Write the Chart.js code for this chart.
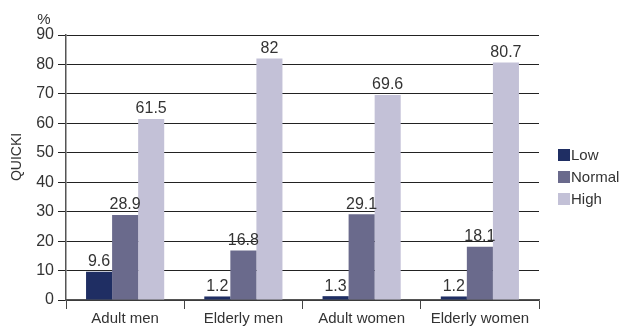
<!DOCTYPE html>
<html>
<head>
<meta charset="utf-8">
<script src="https://cdn.jsdelivr.net/npm/chart.js@4/dist/chart.umd.min.js"></script>
<style>
  html, body { margin: 0; padding: 0; background: #fff; }
  #wrap { width: 620px; height: 327px; }
</style>
</head>
<body>
<div id="wrap"><canvas id="myChart" width="620" height="327"></canvas></div>
<script>
// chart data
const categories = ['Adult men', 'Elderly men', 'Adult women', 'Elderly women'];
const lowValues = [9.6, 1.2, 1.3, 1.2];
const normalValues = [28.9, 16.8, 29.1, 18.1];
const highValues = [61.5, 82, 69.6, 80.7];
const seriesNames = ['Low', 'Normal', 'High'];
const seriesColors = ['#1f2e63', '#6a6a8c', '#c3c1d7'];

const FONT = "'Liberation Sans', Arial, sans-serif";

// value labels above the bars, "%", axis title and legend
const extras = {
    id: 'extras',
    afterDatasetsDraw(chart) {
        const ctx = chart.ctx;
        ctx.save();
        ctx.fillStyle = '#333';
        ctx.font = '16px ' + FONT;
        ctx.textAlign = 'center';
        ctx.textBaseline = 'bottom';
        chart.data.datasets.forEach((ds, i) => {
            chart.getDatasetMeta(i).data.forEach((bar, j) => {
                ctx.fillText(String(ds.data[j]), bar.x, bar.y - 2);
            });
        });
        // "%" above axis
        ctx.font = '15px ' + FONT;
        ctx.textAlign = 'center';
        ctx.textBaseline = 'alphabetic';
        ctx.fillText('%', 44, 24);
        // rotated y title
        ctx.font = '14px ' + FONT;
        ctx.translate(17, 157);
        ctx.rotate(-Math.PI / 2);
        ctx.textBaseline = 'middle';
        ctx.fillText('QUICKI', 0, 0);
        ctx.restore();

        // legend
        ctx.save();
        ctx.font = '15px ' + FONT;
        ctx.textAlign = 'left';
        ctx.textBaseline = 'middle';
        chart.data.datasets.forEach((ds, i) => {
            const y = 155 + i * 22;
            ctx.fillStyle = ds.backgroundColor;
            ctx.fillRect(558, y - 6, 12, 12);
            ctx.fillStyle = '#333';
            ctx.fillText(ds.label, 571, y + 1);
        });
        ctx.restore();
    }
};

const ctx = document.getElementById('myChart').getContext('2d');
const myChart = new Chart(ctx, {
    type: 'bar',
    data: {
        labels: categories,
        datasets: [
            { label: seriesNames[0], data: lowValues, backgroundColor: seriesColors[0] },
            { label: seriesNames[1], data: normalValues, backgroundColor: seriesColors[1] },
            { label: seriesNames[2], data: highValues, backgroundColor: seriesColors[2] }
        ]
    },
    options: {
        responsive: false,
        animation: false,
        layout: { padding: { top: 35, right: 81, left: 0, bottom: 0 } },
        datasets: {
            bar: { categoryPercentage: 0.661, barPercentage: 1.0 }
        },
        plugins: {
            legend: { display: false },
            tooltip: { enabled: false }
        },
        scales: {
            x: {
                grid: { offset: true, drawOnChartArea: false, tickLength: 9, color: '#444' },
                border: { color: '#555', width: 1.5 },
                ticks: { color: '#333', font: { family: FONT, size: 15 }, padding: 1 },
                afterFit(scale) { scale.height = 27; }
            },
            y: {
                min: 0,
                max: 90,
                ticks: { stepSize: 10, color: '#333', font: { family: FONT, size: 16 }, padding: 4 },
                grid: { color: '#222', tickLength: 8, lineWidth: 1 },
                border: { color: '#555', width: 1.5 },
                afterFit(scale) { scale.width = 66; }
            }
        }
    },
    plugins: [extras]
});
</script>
</body>
</html>
